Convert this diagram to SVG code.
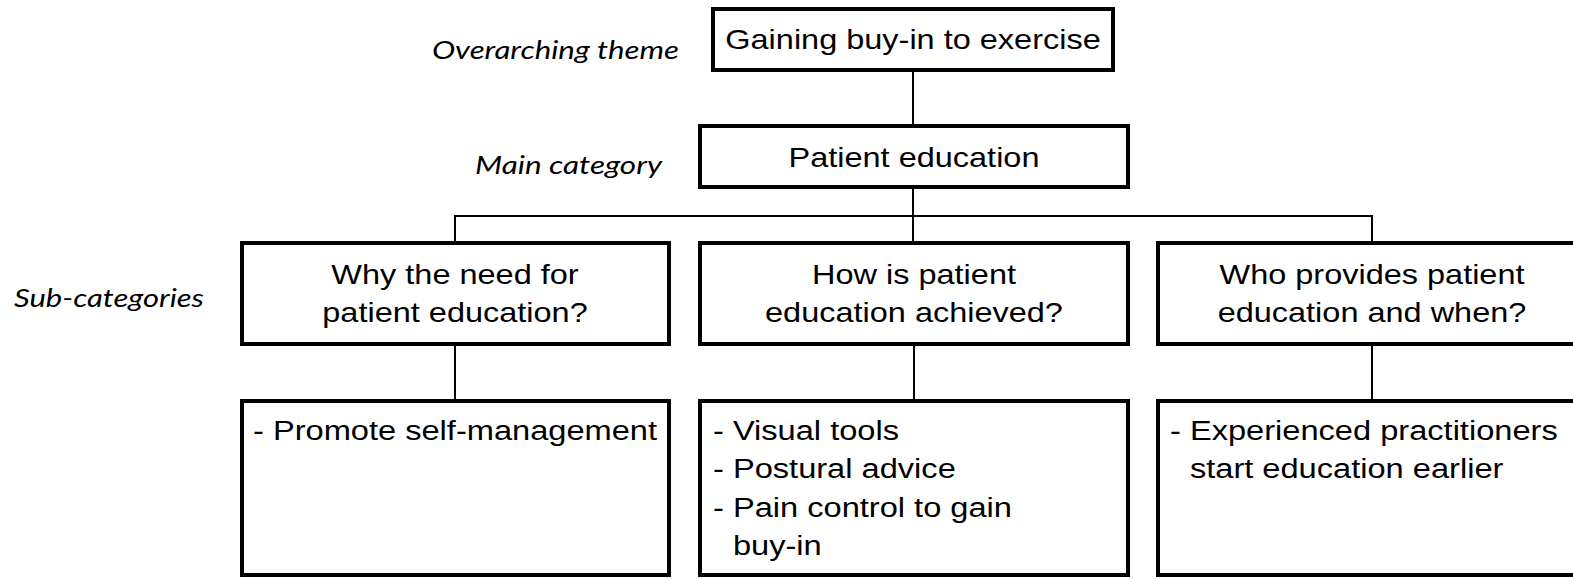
<svg xmlns="http://www.w3.org/2000/svg" width="1573" height="579" viewBox="0 0 1573 579">
  <style>
    .box { fill: #ffffff; stroke: #000000; stroke-width: 4; }
    .link { fill: none; stroke: #000000; stroke-width: 2; }
    .lbl { font-family: "Liberation Sans", Arial, sans-serif; font-size: 28px; fill: #000000; }
    .ctr { text-anchor: middle; }
    .tier { font-family: Lato, "Open Sans", sans-serif; font-style: italic; font-size: 26px; fill: #000000; }
  </style>

  <rect x="0" y="0" width="1573" height="579" fill="#ffffff"/>

  <!-- tier labels on the left -->
  <g id="tier-labels">
    <text class="tier" x="432" y="59" textLength="247" lengthAdjust="spacingAndGlyphs">Overarching theme</text>
    <text class="tier" x="475" y="174" textLength="187" lengthAdjust="spacingAndGlyphs">Main category</text>
    <text class="tier" x="14" y="307" textLength="190" lengthAdjust="spacingAndGlyphs">Sub-categories</text>
  </g>

  <!-- connectors -->
  <g id="connectors">
    <path class="link" d="M913 70 V126"/>
    <path class="link" d="M913 187 V243"/>
    <path class="link" d="M455 243 V216 H1372 V243"/>
    <path class="link" d="M455 344 V401"/>
    <path class="link" d="M914 344 V401"/>
    <path class="link" d="M1372 344 V401"/>
  </g>

  <g id="theme">
    <rect class="box" x="713" y="9" width="400" height="61"/>
    <text class="lbl ctr" transform="translate(913 49) scale(1.16 1)">Gaining buy-in to exercise</text>
  </g>

  <g id="main-category">
    <rect class="box" x="700" y="126" width="428" height="61"/>
    <text class="lbl ctr" transform="translate(914 167) scale(1.16 1)">Patient education</text>
  </g>

  <g id="sub-why">
    <rect class="box" x="242" y="243" width="427" height="101"/>
    <g transform="translate(455 0) scale(1.16 1)">
      <text class="lbl ctr" x="0" y="284">Why the need for</text>
      <text class="lbl ctr" x="0" y="322.5">patient education?</text>
    </g>
  </g>

  <g id="sub-how">
    <rect class="box" x="700" y="243" width="428" height="101"/>
    <g transform="translate(914 0) scale(1.16 1)">
      <text class="lbl ctr" x="0" y="284">How is patient</text>
      <text class="lbl ctr" x="0" y="322.5">education achieved?</text>
    </g>
  </g>

  <g id="sub-who">
    <rect class="box" x="1158" y="243" width="428" height="101"/>
    <g transform="translate(1372 0) scale(1.16 1)">
      <text class="lbl ctr" x="0" y="284">Who provides patient</text>
      <text class="lbl ctr" x="0" y="322.5">education and when?</text>
    </g>
  </g>

  <g id="detail-why">
    <rect class="box" x="242" y="401" width="427" height="174"/>
    <g transform="translate(253 0) scale(1.165 1)">
      <text class="lbl" x="0" y="440">- Promote self-management</text>
    </g>
  </g>

  <g id="detail-how">
    <rect class="box" x="700" y="401" width="428" height="174"/>
    <g transform="translate(713 0) scale(1.165 1)">
      <text class="lbl" x="0" y="440">- Visual tools</text>
      <text class="lbl" x="0" y="478.5">- Postural advice</text>
      <text class="lbl" x="0" y="517">- Pain control to gain</text>
      <text class="lbl" x="17.1" y="555.5">buy-in</text>
    </g>
  </g>

  <g id="detail-who">
    <rect class="box" x="1158" y="401" width="428" height="174"/>
    <g transform="translate(1170 0) scale(1.165 1)">
      <text class="lbl" x="0" y="440">- Experienced practitioners</text>
      <text class="lbl" x="17.1" y="478.5">start education earlier</text>
    </g>
  </g>
</svg>
